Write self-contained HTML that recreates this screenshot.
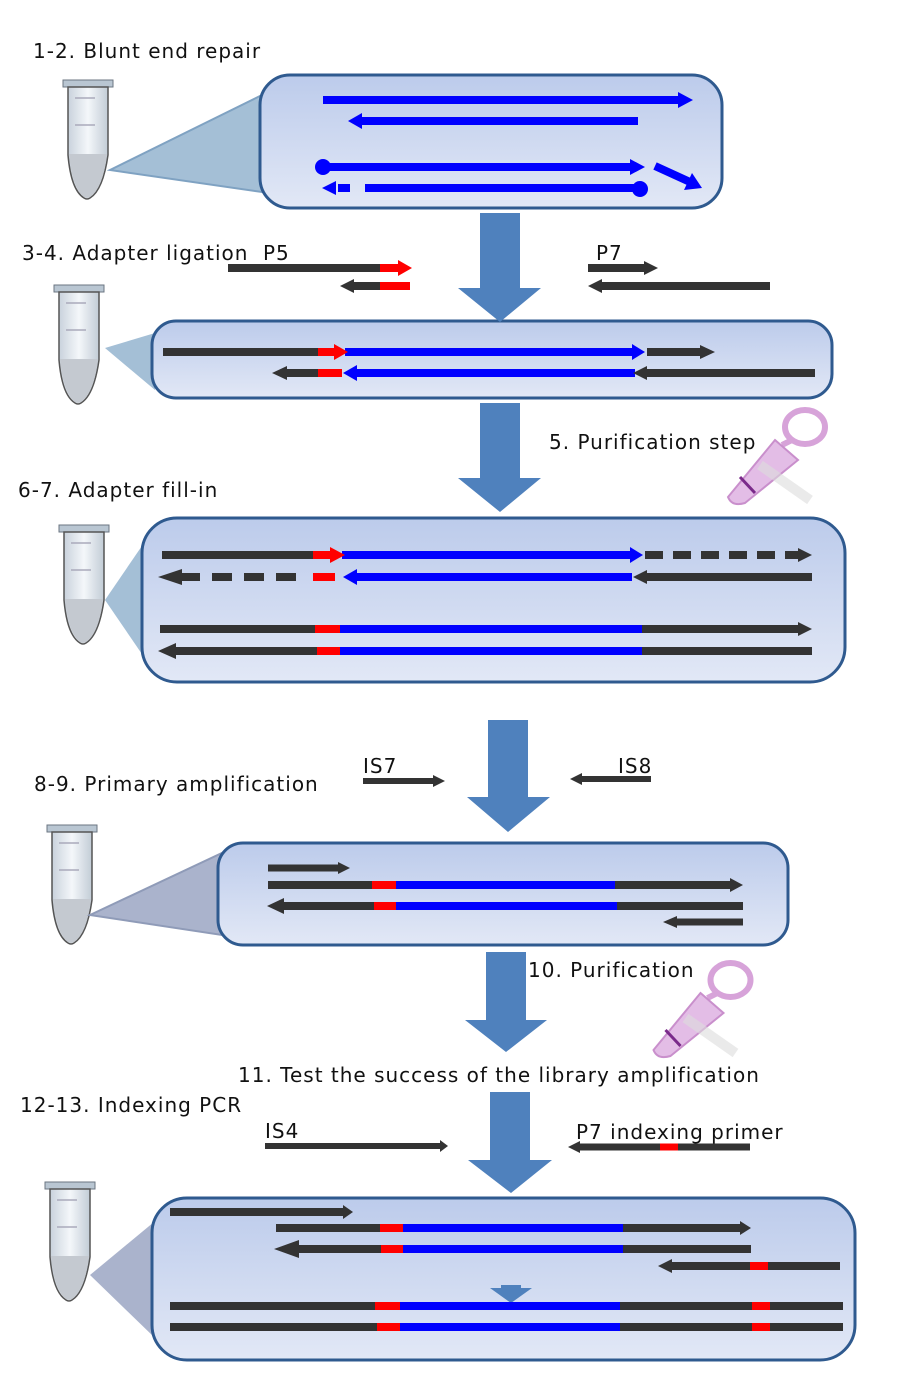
<!DOCTYPE html>
<html><head><meta charset="utf-8"><style>
html,body{margin:0;padding:0;background:#fff;}
svg{display:block;}
text{font-family:"DejaVu Sans","Liberation Sans",sans-serif;font-size:20px;fill:#111;letter-spacing:1px;}
</style></head><body>
<svg width="900" height="1400" viewBox="0 0 900 1400" xmlns="http://www.w3.org/2000/svg">
<defs>
<linearGradient id="pg" x1="0" y1="0" x2="0" y2="1">
<stop offset="0" stop-color="#bccbeb"/><stop offset="1" stop-color="#e2e8f6"/></linearGradient>
<linearGradient id="tb" x1="0" y1="0" x2="1" y2="0">
<stop offset="0" stop-color="#c9d2dc"/><stop offset="0.5" stop-color="#f4f7fa"/><stop offset="1" stop-color="#c2ccd6"/></linearGradient>
<symbol id="tube" viewBox="0 0 50 120" overflow="visible">
<rect x="0" y="0" width="50" height="7" fill="#b9c6d2" stroke="#6b7682" stroke-width="1"/>
<path d="M5 7 L45 7 L45 75 Q40 110 27 118 Q24 120 21 118 Q8 110 5 75 Z" fill="url(#tb)" stroke="#555" stroke-width="1.5"/>
<path d="M6 74 L44 74 Q40 108 27 117 Q24 119 21 117 Q9 108 6 74 Z" fill="#c4c9d0"/>
<line x1="12" y1="18" x2="32" y2="18" stroke="#aab" stroke-width="1.5"/>
<line x1="12" y1="45" x2="32" y2="45" stroke="#aab" stroke-width="1.5"/>
</symbol>
<symbol id="col" viewBox="0 0 110 105" overflow="visible">
<ellipse cx="85" cy="22" rx="20" ry="17" fill="none" stroke="#d7a3d9" stroke-width="6"/>
<path d="M72 35 L62 40" stroke="#d7a3d9" stroke-width="6"/>
<path d="M55 35 L78 55 L25 98 Q12 102 8 92 Z" fill="#e3bde6" stroke="#c98fcc" stroke-width="2"/>
<path d="M20 72 L35 88" stroke="#7a2a8a" stroke-width="3"/>
<path d="M40 60 L90 95" stroke="#ddd" stroke-width="10" opacity="0.6"/>
</symbol>
</defs>

<!-- texts -->
<text x="33" y="58">1-2. Blunt end repair</text>
<text x="22" y="260">3-4. Adapter ligation</text>
<text x="263" y="260">P5</text>
<text x="596" y="260">P7</text>
<text x="549" y="449">5. Purification step</text>
<text x="18" y="497">6-7. Adapter fill-in</text>
<text x="34" y="791">8-9. Primary amplification</text>
<text x="363" y="773">IS7</text>
<text x="618" y="773">IS8</text>
<text x="528" y="977">10. Purification</text>
<text x="238" y="1082">11. Test the success of the library amplification</text>
<text x="20" y="1112">12-13. Indexing PCR</text>
<text x="265" y="1138">IS4</text>
<text x="576" y="1139">P7 indexing primer</text>

<!-- tubes -->
<use href="#tube" x="63" y="80" width="50" height="120"/>
<use href="#tube" x="52" y="285" width="54" height="120"/>
<use href="#tube" x="57" y="525" width="54" height="120"/>
<use href="#tube" x="45" y="825" width="54" height="120"/>
<use href="#tube" x="43" y="1182" width="54" height="120"/>
<use href="#col" x="720" y="405" width="110" height="105"/>
<use href="#col" x="643" y="958" width="115" height="105"/>

<!-- cones -->
<polygon points="110,170 262,95 262,192" fill="#a4bfd6" stroke="#7fa2c2" stroke-width="2"/>
<polygon points="105,348 155,333 155,390" fill="#a4bfd6"/>
<polygon points="105,600 146,540 146,660" fill="#a4bfd6"/>
<polygon points="90,915 222,853 222,935" fill="#aab3cc" stroke="#8f9bb8" stroke-width="2"/>
<polygon points="90,1275 154,1222 154,1337" fill="#aab3cc"/>

<!-- panels -->
<rect x="260" y="75" width="462" height="133" rx="30" fill="url(#pg)" stroke="#2f5a8f" stroke-width="3"/>
<rect x="152" y="321" width="680" height="77" rx="24" fill="url(#pg)" stroke="#2f5a8f" stroke-width="3"/>
<rect x="142" y="518" width="703" height="164" rx="35" fill="url(#pg)" stroke="#2f5a8f" stroke-width="3"/>
<rect x="218" y="843" width="570" height="102" rx="25" fill="url(#pg)" stroke="#2f5a8f" stroke-width="3"/>
<rect x="152" y="1198" width="703" height="162" rx="35" fill="url(#pg)" stroke="#2f5a8f" stroke-width="3"/>

<!-- big arrows -->
<g fill="#4f81bd">
<polygon points="480,213 520,213 520,288 541,288 500,322 458,288 480,288"/>
<polygon points="480,403 520,403 520,478 541,478 500,512 458,478 480,478"/>
<polygon points="488,720 528,720 528,797 550,797 508,832 467,797 488,797"/>
<polygon points="486,952 526,952 526,1020 547,1020 506,1052 465,1020 486,1020"/>
<polygon points="490,1092 530,1092 530,1160 552,1160 511,1193 468,1160 490,1160"/>
<polygon points="501,1285 521,1285 521,1288 532,1288 511,1303 490,1288 501,1288"/>
</g>

<g stroke-width="8" fill="none">
<line x1="323" y1="100" x2="680" y2="100" stroke="#0000ff"/>
<line x1="360" y1="121" x2="638" y2="121" stroke="#0000ff"/>
<line x1="323" y1="167" x2="632" y2="167" stroke="#0000ff"/>
<line x1="655" y1="166" x2="690" y2="182" stroke="#0000ff"/>
<line x1="365" y1="188" x2="640" y2="188" stroke="#0000ff"/>
<line x1="338" y1="188" x2="350" y2="188" stroke="#0000ff"/>
<line x1="228" y1="268" x2="380" y2="268" stroke="#333"/>
<line x1="380" y1="268" x2="400" y2="268" stroke="#ff0000"/>
<line x1="352" y1="286" x2="380" y2="286" stroke="#333"/>
<line x1="380" y1="286" x2="410" y2="286" stroke="#ff0000"/>
<line x1="588" y1="268" x2="645" y2="268" stroke="#333"/>
<line x1="600" y1="286" x2="770" y2="286" stroke="#333"/>
<line x1="163" y1="352" x2="318" y2="352" stroke="#333"/>
<line x1="318" y1="352" x2="335" y2="352" stroke="#ff0000"/>
<line x1="345" y1="352" x2="632" y2="352" stroke="#0000ff"/>
<line x1="647" y1="352" x2="702" y2="352" stroke="#333"/>
<line x1="285" y1="373" x2="318" y2="373" stroke="#333"/>
<line x1="318" y1="373" x2="342" y2="373" stroke="#ff0000"/>
<line x1="355" y1="373" x2="635" y2="373" stroke="#0000ff"/>
<line x1="645" y1="373" x2="815" y2="373" stroke="#333"/>
<line x1="162" y1="555" x2="313" y2="555" stroke="#333"/>
<line x1="313" y1="555" x2="332" y2="555" stroke="#ff0000"/>
<line x1="342" y1="555" x2="630" y2="555" stroke="#0000ff"/>
<line x1="645" y1="555" x2="800" y2="555" stroke="#333" stroke-dasharray="18,10"/>
<line x1="180" y1="577" x2="302" y2="577" stroke="#333" stroke-dasharray="20,12"/>
<line x1="313" y1="577" x2="335" y2="577" stroke="#ff0000"/>
<line x1="355" y1="577" x2="632" y2="577" stroke="#0000ff"/>
<line x1="645" y1="577" x2="812" y2="577" stroke="#333"/>
<line x1="160" y1="629" x2="315" y2="629" stroke="#333"/>
<line x1="315" y1="629" x2="340" y2="629" stroke="#ff0000"/>
<line x1="340" y1="629" x2="642" y2="629" stroke="#0000ff"/>
<line x1="642" y1="629" x2="800" y2="629" stroke="#333"/>
<line x1="172" y1="651" x2="317" y2="651" stroke="#333"/>
<line x1="317" y1="651" x2="340" y2="651" stroke="#ff0000"/>
<line x1="340" y1="651" x2="642" y2="651" stroke="#0000ff"/>
<line x1="642" y1="651" x2="812" y2="651" stroke="#333"/>
<line x1="363" y1="781" x2="435" y2="781" stroke="#333" stroke-width="6"/>
<line x1="580" y1="779" x2="651" y2="779" stroke="#333" stroke-width="6"/>
<line x1="268" y1="868" x2="340" y2="868" stroke="#333" stroke-width="7"/>
<line x1="268" y1="885" x2="372" y2="885" stroke="#333"/>
<line x1="372" y1="885" x2="396" y2="885" stroke="#ff0000"/>
<line x1="396" y1="885" x2="615" y2="885" stroke="#0000ff"/>
<line x1="615" y1="885" x2="732" y2="885" stroke="#333"/>
<line x1="282" y1="906" x2="374" y2="906" stroke="#333"/>
<line x1="374" y1="906" x2="396" y2="906" stroke="#ff0000"/>
<line x1="396" y1="906" x2="617" y2="906" stroke="#0000ff"/>
<line x1="617" y1="906" x2="743" y2="906" stroke="#333"/>
<line x1="675" y1="922" x2="743" y2="922" stroke="#333" stroke-width="7"/>
<line x1="265" y1="1146" x2="442" y2="1146" stroke="#333" stroke-width="6"/>
<line x1="578" y1="1147" x2="750" y2="1147" stroke="#333" stroke-width="7"/>
<line x1="660" y1="1147" x2="678" y2="1147" stroke="#ff0000" stroke-width="7"/>
<line x1="170" y1="1212" x2="345" y2="1212" stroke="#333"/>
<line x1="276" y1="1228" x2="380" y2="1228" stroke="#333"/>
<line x1="380" y1="1228" x2="403" y2="1228" stroke="#ff0000"/>
<line x1="403" y1="1228" x2="623" y2="1228" stroke="#0000ff"/>
<line x1="623" y1="1228" x2="742" y2="1228" stroke="#333"/>
<line x1="290" y1="1249" x2="381" y2="1249" stroke="#333"/>
<line x1="381" y1="1249" x2="403" y2="1249" stroke="#ff0000"/>
<line x1="403" y1="1249" x2="623" y2="1249" stroke="#0000ff"/>
<line x1="623" y1="1249" x2="751" y2="1249" stroke="#333"/>
<line x1="670" y1="1266" x2="750" y2="1266" stroke="#333"/>
<line x1="750" y1="1266" x2="768" y2="1266" stroke="#ff0000"/>
<line x1="768" y1="1266" x2="840" y2="1266" stroke="#333"/>
<line x1="170" y1="1306" x2="375" y2="1306" stroke="#333"/>
<line x1="375" y1="1306" x2="400" y2="1306" stroke="#ff0000"/>
<line x1="400" y1="1306" x2="620" y2="1306" stroke="#0000ff"/>
<line x1="620" y1="1306" x2="752" y2="1306" stroke="#333"/>
<line x1="752" y1="1306" x2="770" y2="1306" stroke="#ff0000"/>
<line x1="770" y1="1306" x2="843" y2="1306" stroke="#333"/>
<line x1="170" y1="1327" x2="377" y2="1327" stroke="#333"/>
<line x1="377" y1="1327" x2="400" y2="1327" stroke="#ff0000"/>
<line x1="400" y1="1327" x2="620" y2="1327" stroke="#0000ff"/>
<line x1="620" y1="1327" x2="752" y2="1327" stroke="#333"/>
<line x1="752" y1="1327" x2="770" y2="1327" stroke="#ff0000"/>
<line x1="770" y1="1327" x2="843" y2="1327" stroke="#333"/>
</g>

<circle cx="323" cy="167" r="8" fill="#0000ff"/>
<circle cx="640" cy="189" r="8" fill="#0000ff"/>

<g fill="#0000ff">
<polygon points="678,92 693,100 678,108"/>
<polygon points="362,113 348,121 362,129"/>
<polygon points="630,159 645,167 630,175"/>
<polygon points="684,190 702,188 692,173"/>
<polygon points="336,181 322,188 336,195"/>
<polygon points="632,344 645,352 632,360"/>
<polygon points="357,365 343,373 357,381"/>
<polygon points="630,547 643,555 630,563"/>
<polygon points="357,569 343,577 357,585"/>
</g>
<g fill="#ff0000">
<polygon points="398,260 412,268 398,276"/>
<polygon points="334,344 348,352 334,360"/>
<polygon points="330,547 345,555 330,563"/>
</g>
<g fill="#333">
<polygon points="354,279 340,286 354,293"/>
<polygon points="644,261 658,268 644,275"/>
<polygon points="602,279 588,286 602,293"/>
<polygon points="700,345 715,352 700,359"/>
<polygon points="287,366 272,373 287,380"/>
<polygon points="647,366 633,373 647,380"/>
<polygon points="798,548 812,555 798,562"/>
<polygon points="182,569 158,577 182,585"/>
<polygon points="647,570 633,577 647,584"/>
<polygon points="798,622 812,629 798,636"/>
<polygon points="176,643 158,651 176,659"/>
<polygon points="433,775 445,781 433,787"/>
<polygon points="582,773 570,779 582,785"/>
<polygon points="338,862 350,868 338,874"/>
<polygon points="730,878 743,885 730,892"/>
<polygon points="284,898 267,906 284,914"/>
<polygon points="677,916 663,922 677,928"/>
<polygon points="440,1140 448,1146 440,1152"/>
<polygon points="580,1141 568,1147 580,1153"/>
<polygon points="343,1205 353,1212 343,1219"/>
<polygon points="740,1221 751,1228 740,1235"/>
<polygon points="299,1240 274,1249 299,1258"/>
<polygon points="672,1259 658,1266 672,1273"/>
</g>
</svg>
</body></html>
